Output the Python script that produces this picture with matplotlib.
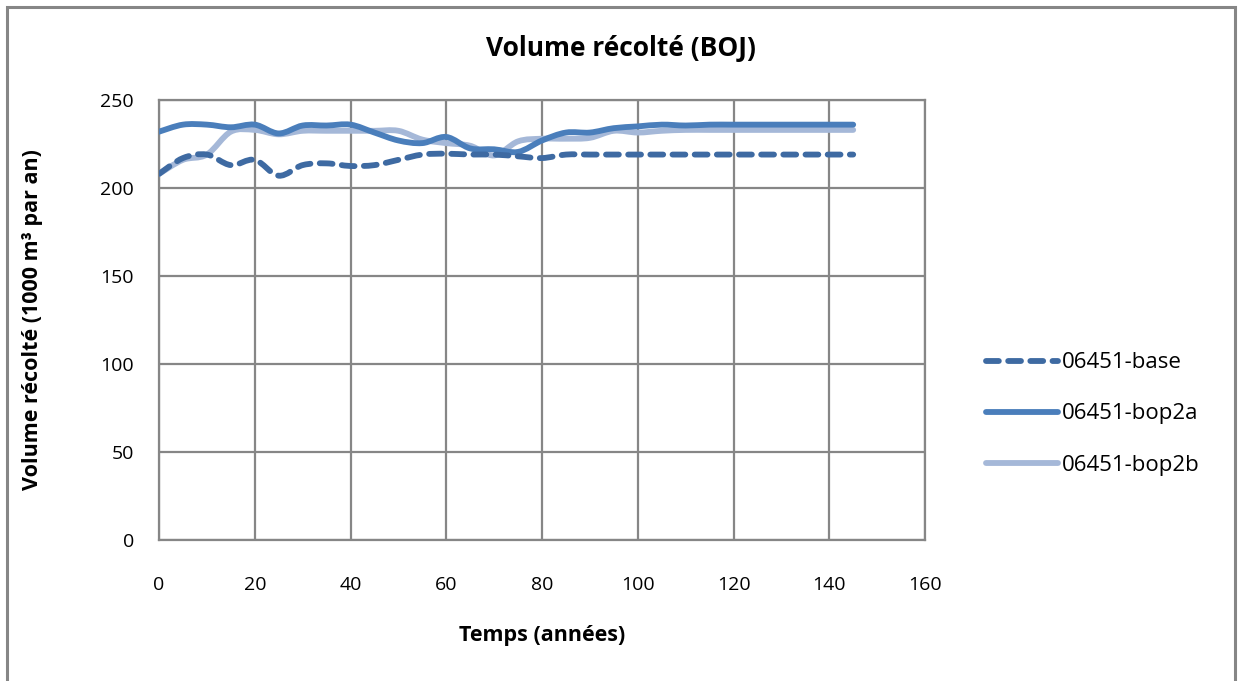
import matplotlib
matplotlib.use("Agg")
import matplotlib.pyplot as plt
from matplotlib.path import Path
from matplotlib.patches import PathPatch, Rectangle
from matplotlib.lines import Line2D
import numpy as np

years = [0, 5, 10, 15, 20, 25, 30, 35, 40, 45, 50, 55, 60, 65, 70, 75, 80, 85,
         90, 95, 100, 105, 110, 115, 120, 125, 130, 135, 140, 145]
base = [208, 217, 219, 213, 216, 207, 213, 214, 212.5, 213, 216, 219, 219.5, 219,
        219, 218, 217, 219, 219, 219, 219, 219, 219, 219, 219, 219, 219, 219, 219, 219]
bop2a = [232, 236, 236, 234.5, 236, 231, 235.5, 235.5, 236, 231.5, 227, 225.5, 229,
         222.5, 222, 220.5, 227, 231.5, 231.5, 234, 235, 236, 235.5, 236, 236, 236,
         236, 236, 236, 236]
bop2b = [208, 216, 219, 232, 233, 230.5, 232.5, 232.5, 232.5, 232.5, 232.5, 227.5,
         225.5, 224, 218.5, 226.5, 228, 228, 228.5, 232.5, 231.5, 232.5, 233, 233,
         233, 233, 233, 233, 233, 233]
series_names = ["06451-base", "06451-bop2a", "06451-bop2b"]
x_ticks = [0, 20, 40, 60, 80, 100, 120, 140, 160]
y_ticks = [0, 50, 100, 150, 200, 250]

title = "Volume récolté (BOJ)"
xlabel = "Temps (années)"
ylabel = "Volume récolté (1000 m³ par an)"

FONT = ["Open Sans", "DejaVu Sans"]
plt.rcParams["font.family"] = FONT

W, H = 1241, 681
fig = plt.figure(figsize=(W / 100, H / 100), dpi=100)

# outer chart frame
fig.patches.append(Rectangle((7 / W, -0.05), (1235 - 7) / W, 1 - 7 / H + 0.05,
                             transform=fig.transFigure, fill=False,
                             edgecolor="#868686", linewidth=2.2))

ax = fig.add_axes([159 / W, 1 - 540 / H, (925 - 159) / W, (540 - 100) / H])
ax.set_xlim(0, 160)
ax.set_ylim(0, 250)
ax.set_xticks(x_ticks)
ax.set_yticks(y_ticks)
ax.tick_params(length=0, labelsize=14)
ax.tick_params(axis="x", pad=26)
ax.tick_params(axis="y", pad=18)
ax.grid(True, color="#868686", linewidth=1.6)
ax.set_axisbelow(True)
for s in ax.spines.values():
    s.set_color("#868686")
    s.set_linewidth(1.6)


def smooth_path(xs, ys):
    xs = np.asarray(xs, float)
    ys = np.asarray(ys, float)
    n = len(xs)
    verts = [(xs[0], ys[0])]
    codes = [Path.MOVETO]
    for i in range(n - 1):
        p0 = (xs[max(i - 1, 0)], ys[max(i - 1, 0)])
        p1 = (xs[i], ys[i])
        p2 = (xs[i + 1], ys[i + 1])
        p3 = (xs[min(i + 2, n - 1)], ys[min(i + 2, n - 1)])
        c1 = (p1[0] + (p2[0] - p0[0]) / 6, p1[1] + (p2[1] - p0[1]) / 6)
        c2 = (p2[0] - (p3[0] - p1[0]) / 6, p2[1] - (p3[1] - p1[1]) / 6)
        verts += [c1, c2, p2]
        codes += [Path.CURVE4] * 3
    return Path(verts, codes)


styles = [
    dict(color="#3E6AA2", lw=4.2, ls=(0, (2.2, 1.6)), cap="round"),
    dict(color="#4A7EBB", lw=4.2, ls="-", cap="round"),
    dict(color="#A5B8D8", lw=4.2, ls="-", cap="round"),
]
data = [base, bop2a, bop2b]
order = [2, 1, 0]
for k in order:
    st = styles[k]
    patch = PathPatch(smooth_path(years, data[k]), fill=False, edgecolor=st["color"],
                      linewidth=st["lw"], linestyle=st["ls"], capstyle=st["cap"],
                      joinstyle="round", zorder=3)
    ax.add_patch(patch)

handles = [Line2D([], [], color=st["color"], lw=st["lw"], ls=st["ls"],
                  dash_capstyle="round", solid_capstyle="round") for st in styles]
fig.legend(handles, series_names, loc="center left",
           bbox_to_anchor=(966 / W, 1 - 414 / H), frameon=False, fontsize=16,
           handlelength=3.25, handletextpad=0.15, labelspacing=1.35)

fig.text(621 / W, 1 - 48 / H, title, ha="center", va="center", fontsize=19,
         fontweight="bold")
fig.text(542 / W, 1 - 636 / H, xlabel, ha="center", va="center", fontsize=15.5,
         fontweight="bold")
fig.text(33 / W, 1 - 320 / H, ylabel, ha="center", va="center", fontsize=15.5,
         fontweight="bold", rotation=90)

fig.savefig("out.png", dpi=100)
